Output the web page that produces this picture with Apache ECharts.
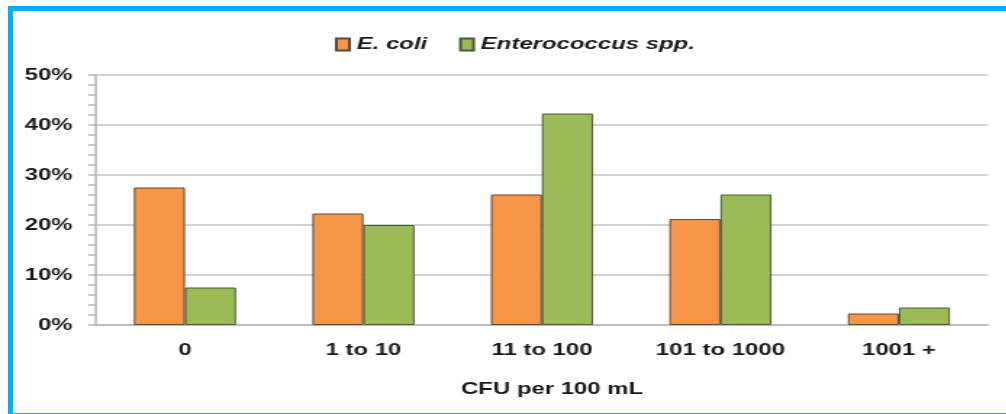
<!DOCTYPE html>
<html>
<head>
<meta charset="utf-8">
<script src="https://cdn.jsdelivr.net/npm/echarts@6/dist/echarts.min.js"></script>
<style>
  html, body { margin: 0; padding: 0; background: #fff; overflow: hidden; }
  #wrap { position: relative; width: 1006px; height: 414px; overflow: hidden; }
  /* chart is laid out narrow, then widened horizontally */
  #chart { position: absolute; left: 0; top: 0; width: 694px; height: 414px;
           transform: scaleX(1.45); transform-origin: 0 0; }
  #frame { position: absolute; left: 8px; top: 6px; width: 1100px; height: 402px;
           border: 5px solid #00b0f0; border-right: none; box-sizing: content-box;
           pointer-events: none; }
</style>
</head>
<body>
<div id="wrap">
  <div id="chart"></div>
  <div id="frame"></div>
</div>
<script>
// Share of samples per concentration band (percent)
const categories = ['0', '1 to 10', '11 to 100', '101 to 1000', '1001 +'];
const eColi = [27.5, 22.3, 26.1, 21.2, 2.3];
const enterococcus = [7.5, 20.0, 42.3, 26.1, 3.5];
const seriesNames = ['E. coli', 'Enterococcus spp.'];
const xAxisTitle = 'CFU per 100 mL';

const font = "'Liberation Sans', Arial, sans-serif";
const chart = echarts.init(document.getElementById('chart'));

chart.setOption({
  animation: false,
  backgroundColor: 'transparent',
  legend: {
    left: 226,
    top: 31,
    itemWidth: 9,
    itemHeight: 12,
    itemGap: 22,
    icon: 'rect',
    textStyle: { fontFamily: font, fontSize: 16.5, fontWeight: 'bold', fontStyle: 'italic', color: '#1a1a1a' },
    data: seriesNames
  },
  grid: { left: 66, right: 12.5, top: 75, bottom: 89 },
  xAxis: {
    type: 'category',
    data: categories,
    name: xAxisTitle,
    nameLocation: 'middle',
    nameGap: 56,
    nameTextStyle: { fontFamily: font, fontSize: 16.5, fontWeight: 'bold', color: '#1a1a1a', padding: [0, 0, 0, 14] },
    axisLine: { lineStyle: { color: '#b5b5b5', width: 1.5 } },
    axisTick: { show: false },
    axisLabel: { margin: 17, fontFamily: font, fontSize: 16.5, fontWeight: 'bold', color: '#1a1a1a' }
  },
  yAxis: {
    type: 'value',
    min: 0,
    max: 50,
    interval: 10,
    axisLine: { show: true, lineStyle: { color: '#b5b5b5', width: 1.5 } },
    axisTick: { show: true, length: 5, lineStyle: { color: '#b5b5b5', width: 1.5 } },
    minorTick: { show: true, splitNumber: 5, length: 5, lineStyle: { color: '#b5b5b5', width: 1.5 } },
    splitLine: { lineStyle: { color: '#c4c4c4', width: 1.5 } },
    axisLabel: { margin: 16, formatter: '{value}%', fontFamily: font, fontSize: 16.5, fontWeight: 'bold', color: '#1a1a1a' }
  },
  series: [
    {
      name: seriesNames[0],
      type: 'bar',
      data: eColi,
      barGap: '0%',
      barCategoryGap: '42.8%',
      itemStyle: { color: '#f79646', borderColor: '#5a4a3a', borderWidth: 1 }
    },
    {
      name: seriesNames[1],
      type: 'bar',
      data: enterococcus,
      barGap: '0%',
      barCategoryGap: '42.8%',
      itemStyle: { color: '#9bbb59', borderColor: '#4a5a3a', borderWidth: 1 }
    }
  ]
});
</script>
</body>
</html>
